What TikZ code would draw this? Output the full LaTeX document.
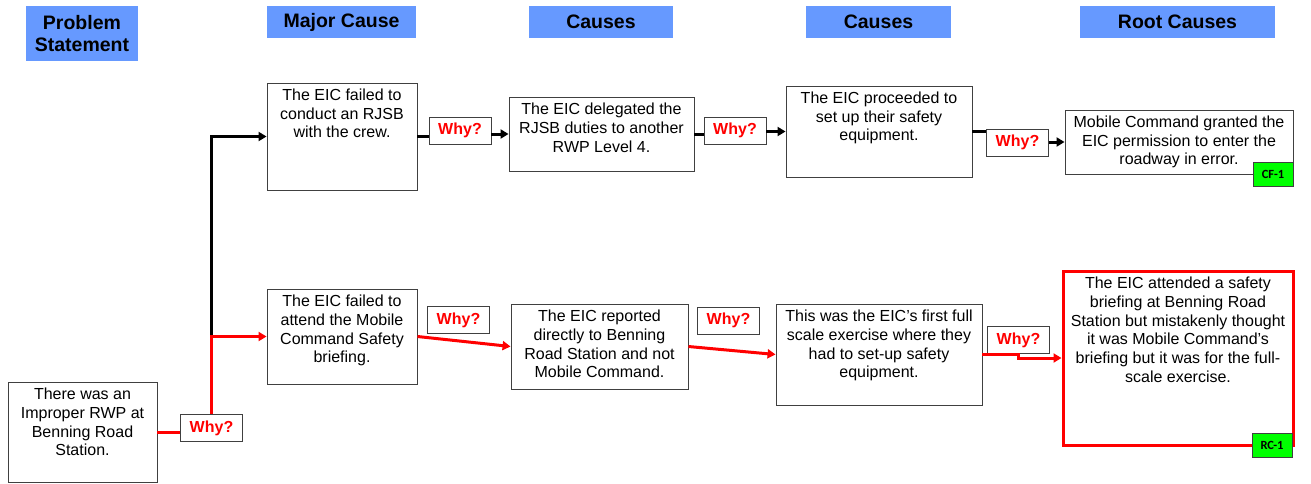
\documentclass[tikz,border=0pt]{standalone}
\usepackage{fontspec}
\setmainfont{Liberation Sans}
\newfontfamily\tagfont{Carlito}
\usepackage{xcolor}
\usetikzlibrary{arrows.meta}
\definecolor{hdrblue}{RGB}{102,153,255}
\definecolor{taggreen}{RGB}{0,255,0}
\definecolor{boxgray}{RGB}{64,64,64}
\newcommand{\toptext}[3]{\parbox[c][#2pt][t]{#1pt}{\centering\vspace*{6pt}#3\par}}

\tikzset{
  hdr/.style={fill=hdrblue, inner sep=0pt, align=center, font=\fontsize{19.5}{22.5}\selectfont\bfseries},
  cause/.style={draw=boxgray, line width=0.9pt, fill=white, inner sep=0pt, font=\fontsize{16}{18.7}\selectfont},
  rootcause/.style={cause, draw=red, line width=3pt},
  why/.style={draw=boxgray, line width=0.9pt, fill=white, inner sep=0pt, minimum width=62pt, minimum height=27pt, text=red, font=\fontsize{16}{18}\selectfont\bfseries},
  tag/.style={draw=boxgray, line width=0.8pt, fill=taggreen, inner sep=0pt, minimum width=40pt, minimum height=24pt, font=\tagfont\bfseries\fontsize{12.5}{14}\selectfont},
  blkline/.style={line width=3pt},
  blkarrow/.style={line width=3pt, -{Triangle[length=8pt,width=9pt]}},
  redline/.style={red, line width=3pt},
  redarrow/.style={red, line width=3pt, -{Triangle[length=8pt,width=9pt]}}
}

\begin{document}
\begin{tikzpicture}[x=1pt, y=-1pt]
    \useasboundingbox (0,0) rectangle (1311,483);

    % Column headers
    \node[hdr, minimum width=112pt, minimum height=55pt] (hprob) at (82,33.5) {Problem\\Statement};
    \node[hdr, minimum width=149pt, minimum height=32pt] (hmajor) at (341.5,22) {Major Cause};
    \node[hdr, minimum width=144pt, minimum height=32pt] (hcause1) at (601,22) {Causes};
    \node[hdr, minimum width=145pt, minimum height=32pt] (hcause2) at (878.5,22) {Causes};
    \node[hdr, minimum width=195pt, minimum height=32pt] (hroot) at (1177.5,22) {Root Causes};

    % Problem statement
    \node[cause] (prob) at (82.5,432) {\toptext{149}{100}{There was an\\Improper RWP at\\Benning Road\\Station.}};
    \node[why] (w0) at (211.5,428) {Why?};

    % Upper chain
    \node[cause] (a1) at (342,136.5) {\toptext{150}{107}{The EIC failed to\\conduct an RJSB\\with the crew.}};
    \node[why] (w1) at (460,130.5) {Why?};
    \node[cause] (a2) at (601.5,134) {\toptext{185}{74}{The EIC delegated the\\RJSB duties to another\\RWP Level 4.}};
    \node[why] (w2) at (735,130.5) {Why?};
    \node[cause] (a3) at (879,131.5) {\toptext{186}{91}{The EIC proceeded to\\set up their safety\\equipment.}};
    \node[why] (w3) at (1017.5,142.5) {Why?};
    \node[cause] (a4) at (1179,142) {\toptext{228}{64}{Mobile Command granted the\\EIC permission to enter the\\roadway in error.}};
    \node[tag] (cf) at (1273,174) {CF-1};

    % Lower chain
    \node[cause] (b1) at (342,336.5) {\toptext{150}{95}{The EIC failed to\\attend the Mobile\\Command Safety\\briefing.}};
    \node[why] (w4) at (458.5,320) {Why?};
    \node[cause] (b2) at (599.5,346.5) {\toptext{177}{85}{The EIC reported\\directly to Benning\\Road Station and not\\Mobile Command.}};
    \node[why] (w5) at (728.5,320.5) {Why?};
    \node[cause] (b3) at (879,354.5) {\toptext{206}{101}{This was the EIC’s first full\\scale exercise where they\\had to set-up safety\\equipment.}};
    \node[why] (w6) at (1018.5,340) {Why?};
    \node[rootcause] (b4) at (1178,358) {\toptext{230}{174}{The EIC attended a safety\\briefing at Benning Road\\Station but mistakenly thought\\it was Mobile Command’s\\briefing but it was for the full-\\scale exercise.}};
    \node[tag] (rc) at (1272,445) {RC-1};

    % Black connectors
    \draw[blkarrow] (w0.north |- b1.west) |- (a1.west);
    \draw[blkline] (a1.east) -- (a1.east -| w1.west);
    \draw[blkarrow] (w1.east |- a2.west) -- (a2.west);
    \draw[blkline] (a2.east) -- (a2.east -| w2.west);
    \draw[blkarrow] (w2.east |- a3.west) -- (a3.west);
    \draw[blkline] (a3.east) -- (a3.east -| w3.west);
    \draw[blkarrow] (w3.east |- a4.west) -- (a4.west);

    % Red connectors
    \draw[redline] (prob.east) -- (prob.east -| w0.west);
    \draw[redarrow] (w0.north) |- (b1.west);
    \draw[redarrow] (b1.east) -- (b2.west);
    \draw[redarrow] (b2.east) -- (b3.west);
    \draw[redarrow] (b3.east) -- (b3.east -| w6.south) -- (w6.south |- b4.west) -- (b4.west);

\end{tikzpicture}
\end{document}
